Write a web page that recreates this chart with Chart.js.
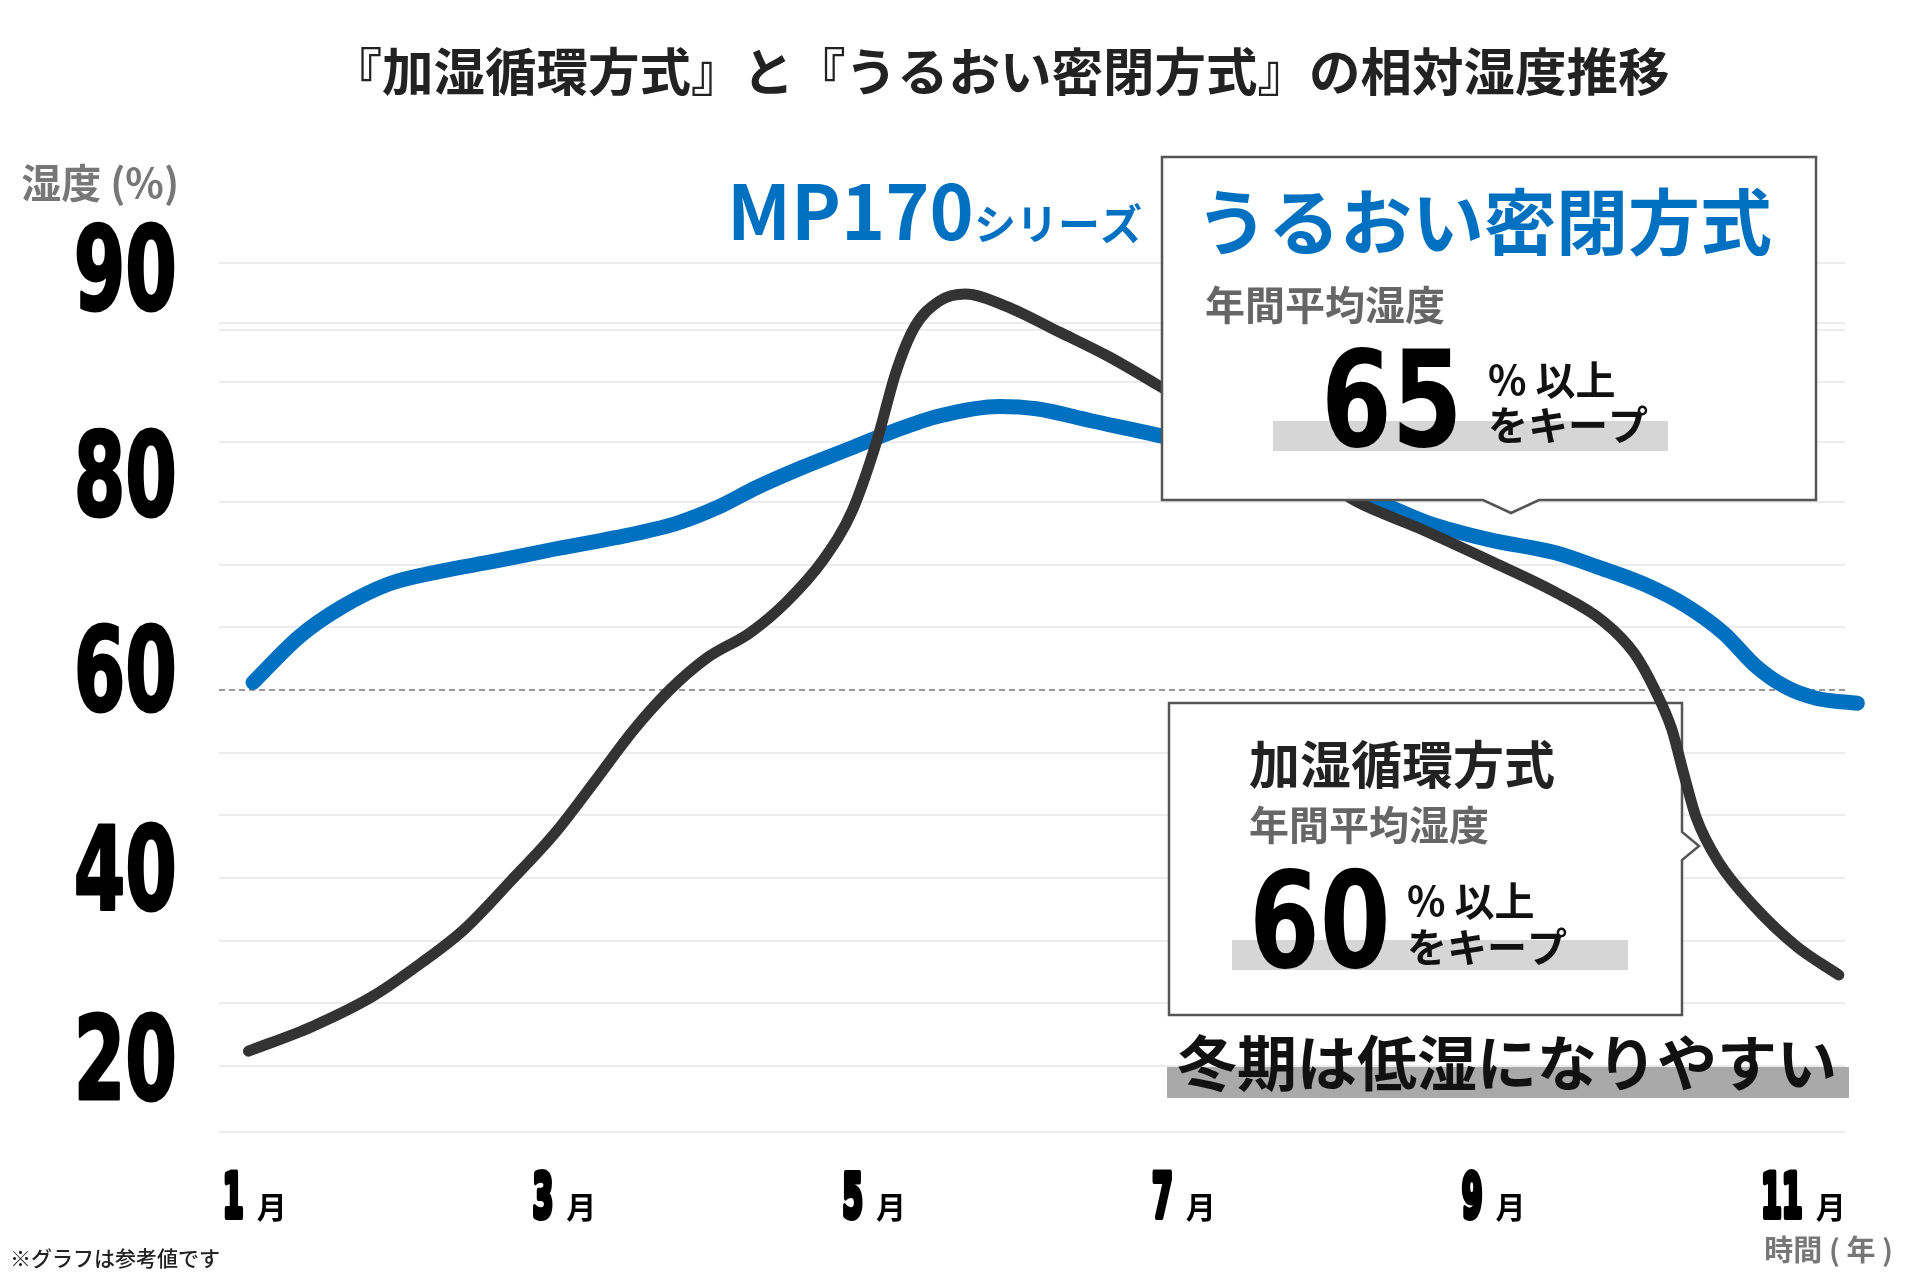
<!DOCTYPE html>
<html lang="ja">
<head>
<meta charset="utf-8">
<title>相対湿度推移</title>
<script src="https://cdn.jsdelivr.net/npm/chart.js@4.4.1/dist/chart.umd.min.js"></script>
<style>
  html, body { margin: 0; padding: 0; background: #fff; }
  #wrap { width: 1920px; height: 1280px; }
</style>
</head>
<body>
<div id="wrap"><canvas id="humidityChart"></canvas></div>
<script>
const JP = "'Noto Sans CJK JP', 'Noto Sans', sans-serif";
const NUM = "'DejaVu Sans', sans-serif";

// X axis (months)
const xTickMonths = [1, 3, 5, 7, 9, 11];
const xTickLabels = ["1", "3", "5", "7", "9", "11"];

// Y axis (humidity %)
const yTickValues = [20, 40, 60, 80, 90];
const yTickLabels = ["20", "40", "60", "80", "90"];
const yGridValues = [13, 20, 26.67, 33.33, 40, 46.67, 53.33, 60, 66.67, 73.33, 80, 82.5, 85, 87.2, 87.5, 90];

// 加湿循環方式 (black line)
const circMonths = [0.94, 1.35, 1.74, 2.05, 2.33, 2.64, 2.92, 3.2, 3.43, 3.66, 3.9, 4.18, 4.41, 4.65, 4.84, 5.0, 5.12, 5.24, 5.4, 5.57, 5.83, 6.18, 6.49, 6.81, 7.2, 7.6, 7.9, 8.1, 8.5, 8.95, 9.38, 9.69, 9.89, 10.02, 10.13, 10.21, 10.29, 10.43, 10.67, 10.94, 11.21];
const circValues = [21.6, 24.2, 27.4, 30.9, 34.5, 39.8, 44.8, 50.8, 55.8, 60.0, 63.4, 66.1, 69.3, 73.8, 79.1, 82.6, 85.4, 87.3, 88.4, 88.7, 88.2, 87.1, 86.1, 84.9, 83.4, 81.9, 80.8, 80.0, 77.2, 73.8, 70.4, 67.3, 63.9, 60.1, 55.9, 51.0, 46.4, 41.8, 36.9, 32.7, 29.7];

// うるおい密閉方式 MP170 (blue line)
const mpMonths = [0.97, 1.27, 1.54, 1.85, 2.17, 2.53, 2.92, 3.31, 3.7, 3.98, 4.22, 4.5, 4.81, 5.08, 5.4, 5.79, 6.03, 6.38, 6.81, 7.2, 7.6, 8.0, 8.23, 8.57, 8.95, 9.38, 9.65, 9.96, 10.23, 10.47, 10.67, 10.87, 11.07, 11.33];
const mpValues = [60.8, 65.7, 68.8, 71.3, 72.6, 73.7, 75.0, 76.2, 77.7, 79.5, 80.6, 81.4, 82.2, 82.9, 83.6, 84.0, 83.9, 83.4, 82.8, 82.2, 81.4, 80.5, 80.0, 77.7, 76.0, 74.6, 73.1, 71.2, 68.9, 66.0, 62.6, 60.3, 59.1, 58.6];

// linear scale, lower part compressed below breakValue
class BrokenLinearScale extends Chart.LinearScale {
  toDecimal(v) {
    const brk = this.options.breakValue;
    const f = this.options.breakFraction;
    if (v <= brk) return (v - this.min) / (brk - this.min) * f;
    return f + (v - brk) / (this.max - brk) * (1 - f);
  }
  getPixelForValue(value) {
    if (value === null || value === undefined) return NaN;
    return this.getPixelForDecimal(this.toDecimal(value));
  }
  getValueForPixel(pixel) {
    const d = this.getDecimalForPixel(pixel);
    const brk = this.options.breakValue;
    const f = this.options.breakFraction;
    if (d <= f) return this.min + d / f * (brk - this.min);
    return brk + (d - f) / (1 - f) * (this.max - brk);
  }
}
BrokenLinearScale.id = "brokenLinear";
BrokenLinearScale.defaults = Chart.LinearScale.defaults;
Chart.register(BrokenLinearScale);

function text(ctx, str, x, y, font, color, align, baseline) {
  ctx.font = font;
  ctx.fillStyle = color;
  ctx.textAlign = align || "left";
  ctx.textBaseline = baseline || "middle";
  ctx.fillText(str, x, y);
}

// heavy condensed digits (squeezed + a bit of stroke for weight)
function digits(ctx, str, x, y, size, sx, align, baseline, bold) {
  ctx.save();
  ctx.translate(x, y);
  ctx.scale(sx, 1);
  text(ctx, str, 0, 0, `bold ${size}px ${NUM}`, "#000", align, baseline);
  if (bold) {
    ctx.lineWidth = bold;
    ctx.lineJoin = "round";
    ctx.strokeStyle = "#000";
    ctx.strokeText(str, 0, 0);
  }
  ctx.restore();
}

function callout(ctx, l, t, r, b, pointer) {
  ctx.save();
  ctx.beginPath();
  ctx.moveTo(l, t);
  ctx.lineTo(r, t);
  if (pointer.side === "right") {
    ctx.lineTo(r, pointer.at - pointer.half);
    ctx.lineTo(r + pointer.len, pointer.at);
    ctx.lineTo(r, pointer.at + pointer.half);
  }
  ctx.lineTo(r, b);
  if (pointer.side === "bottom") {
    ctx.lineTo(pointer.at + pointer.half, b);
    ctx.lineTo(pointer.at, b + pointer.len);
    ctx.lineTo(pointer.at - pointer.half, b);
  }
  ctx.lineTo(l, b);
  ctx.closePath();
  ctx.fillStyle = "#fff";
  ctx.fill();
  ctx.lineWidth = 2.5;
  ctx.strokeStyle = "#555";
  ctx.stroke();
  ctx.restore();
}

function keepBlock(ctx, value, numX, numBase, barL, barT, barR, barB, unitX, y1, y2) {
  ctx.fillStyle = "#d6d6d6";
  ctx.fillRect(barL, barT, barR - barL, barB - barT);
  digits(ctx, value, numX, numBase, 134, 0.76, "left", "alphabetic");
  text(ctx, "% 以上", unitX, y1, `bold 40px ${JP}`, "#111");
  text(ctx, "をキープ", unitX, y2, `bold 40px ${JP}`, "#111");
}

// box that the black line runs over
const lowerBoxPlugin = {
  id: "lowerBox",
  beforeDatasetsDraw(chart) {
    const ctx = chart.ctx;
    callout(ctx, 1169, 703, 1682, 1015, { side: "right", at: 846, half: 14, len: 17 });
    text(ctx, "加湿循環方式", 1249, 765, `bold 51px ${JP}`, "#222");
    text(ctx, "年間平均湿度", 1249, 825, `bold 40px ${JP}`, "#666");
    keepBlock(ctx, "60", 1249, 967, 1232, 940, 1628, 970, 1407, 901, 947);
  }
};

// label nudges (px) so the big y labels sit where the original puts them
const yLabelNudge = [3, 1, -10, -17, 16];

// box over the lines + other labels
const annotationPlugin = {
  id: "annotations",
  afterDatasetsDraw(chart) {
    const ctx = chart.ctx;
    callout(ctx, 1162, 157, 1816, 500, { side: "bottom", at: 1511, half: 28, len: 13 });
    text(ctx, "うるおい密閉方式", 1196, 222, `bold 72px ${JP}`, "#0070c0");
    text(ctx, "年間平均湿度", 1205, 305, `bold 40px ${JP}`, "#666");
    keepBlock(ctx, "65", 1321, 446, 1273, 421, 1668, 451, 1488, 380, 425);

    text(ctx, "MP170", 727, 240, `bold 75px ${JP}`, "#0070c0", "left", "alphabetic");
    text(ctx, "シリーズ", 974, 240, `bold 42px ${JP}`, "#0070c0", "left", "alphabetic");

    ctx.fillStyle = "#a9a9a9";
    ctx.fillRect(1167, 1067, 682, 31);
    text(ctx, "冬期は低湿になりやすい", 1177, 1063, `bold 60px ${JP}`, "#111");
  },
  afterDraw(chart) {
    const ctx = chart.ctx;
    const xs = chart.scales.x;
    const ys = chart.scales.y;
    ctx.save();
    yTickValues.forEach((v, i) => {
      digits(ctx, yTickLabels[i], 177, ys.getPixelForValue(v) + yLabelNudge[i], 116, 0.64, "right", "middle", 3);
    });
    const sx = 0.5;
    xTickMonths.forEach((m, i) => {
      const cx = xs.getPixelForValue(m) - 3;
      ctx.font = `bold 60px ${NUM}`;
      const wNum = ctx.measureText(xTickLabels[i]).width * sx;
      const gap = 13;
      const wUnit = 30;
      const x0 = cx - (wNum + gap + wUnit) / 2;
      digits(ctx, xTickLabels[i], x0, 1217, 60, sx, "left", "alphabetic", 6);
      text(ctx, "月", x0 + wNum + gap, 1218, `bold 30px ${JP}`, "#000", "left", "alphabetic");
    });
    text(ctx, "湿度 (%)", 179, 183, `bold 40px ${JP}`, "#777", "right");
    text(ctx, "時間 ( 年 )", 1893, 1250, `bold 29px ${JP}`, "#777", "right");
    text(ctx, "※グラフは参考値です", 10, 1258, `500 21px ${JP}`, "#222");
    ctx.restore();
  }
};

const toPoints = (xs, ys) => xs.map((x, i) => ({ x: x, y: ys[i] }));

const humidityChart = document.getElementById("humidityChart");

new Chart(humidityChart, {
  type: "line",
  data: {
    datasets: [
      {
        label: "加湿循環方式",
        data: toPoints(circMonths, circValues),
        borderColor: "#333333",
        borderWidth: 11,
        borderCapStyle: "round",
        borderJoinStyle: "round",
        cubicInterpolationMode: "monotone",
        pointRadius: 0,
        fill: false,
        clip: false,
      },
      {
        label: "うるおい密閉方式",
        data: toPoints(mpMonths, mpValues),
        borderColor: "#0070c0",
        borderWidth: 15,
        borderCapStyle: "round",
        borderJoinStyle: "round",
        cubicInterpolationMode: "monotone",
        pointRadius: 0,
        fill: false,
        clip: false,
      },
    ],
  },
  options: {
    responsive: true,
    maintainAspectRatio: false,
    animation: false,
    layout: { padding: { left: 155, right: 75, top: 0, bottom: 0 } },
    plugins: {
      legend: { display: false },
      tooltip: { enabled: false },
      title: {
        display: true,
        text: "『加湿循環方式』と『うるおい密閉方式』の相対湿度推移",
        color: "#222",
        font: { family: JP, size: 51.5, weight: "bold", lineHeight: 1.2 },
        padding: { top: 41, bottom: 160.2 },
      },
    },
    scales: {
      x: {
        type: "linear",
        min: 0.75,
        max: 11.25,
        grid: { display: false },
        border: { display: false },
        ticks: { display: false },
        afterFit: (axis) => { axis.height = 148; },
      },
      y: {
        type: "brokenLinear",
        min: 13,
        max: 90,
        breakValue: 80,
        breakFraction: 0.725,
        afterFit: (axis) => { axis.width = 64; },
        afterBuildTicks: (axis) => {
          axis.ticks = yGridValues.map((v) => ({ value: v }));
        },
        grid: {
          drawTicks: false,
          lineWidth: 2,
          color: (c) => (c.tick && c.tick.value === 60 ? "#9a9a9a" : "#ececec"),
        },
        border: {
          display: false,
          dash: (c) => (c.tick && c.tick.value === 60 ? [6, 4] : []),
        },
        ticks: { display: false, autoSkip: false },
      },
    },
  },
  plugins: [lowerBoxPlugin, annotationPlugin],
});
</script>
</body>
</html>
